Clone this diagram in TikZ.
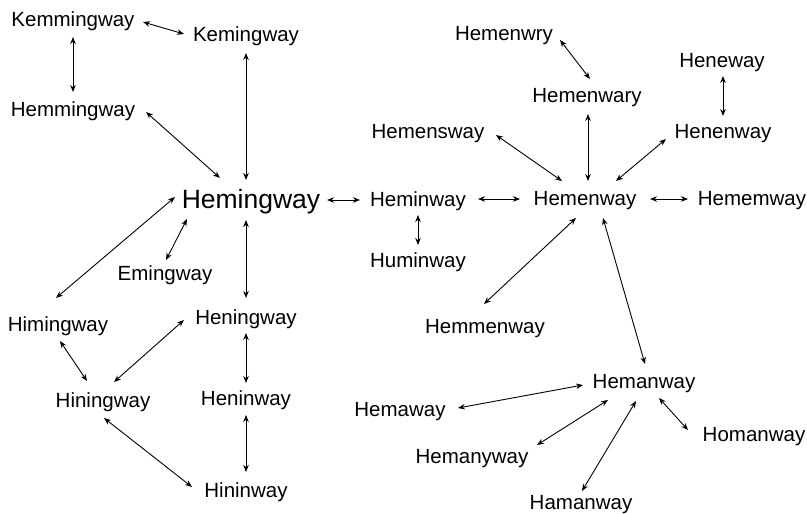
\documentclass[tikz,border=0pt]{standalone}
\usepackage{fontspec}
\setmainfont{Liberation Sans}
\usetikzlibrary{calc,arrows.meta}
\tikzset{
  w/.style={inner sep=0pt, yshift=-2pt, font=\fontsize{20.5}{24}\selectfont},
  big/.style={inner sep=0pt, yshift=-2pt, font=\fontsize{26.5}{31}\selectfont},
  link/.style={line width=0.9pt, {Stealth[length=7pt,width=5.5pt]}-{Stealth[length=7pt,width=5.5pt]}}
}
\newcommand\lnk[4]{\draw[link] ($(#1)+(#2)+(0,-2)$) -- ($(#3)+(#4)+(0,-2)$);}
\begin{document}
\begin{tikzpicture}[x=1pt,y=-1pt]
\useasboundingbox (0,0) rectangle (807,514);
\node[w] (kmm) at (73,19) {Kemmingway};
\node[w] (kem) at (246,34) {Kemingway};
\node[w] (hmm) at (73,109) {Hemmingway};
\node[big] (hem) at (251,200) {Hemingway};
\node[w] (emi) at (165,273) {Emingway};
\node[w] (him) at (58,324) {Himingway};
\node[w] (hng) at (246,317) {Heningway};
\node[w] (hig) at (103,400) {Hiningway};
\node[w] (hnw) at (246,398) {Heninway};
\node[w] (hiw) at (246,490) {Hininway};
\node[w] (hmw) at (418,199) {Heminway};
\node[w] (huw) at (418,260) {Huminway};
\node[w] (hen) at (585,199) {Hemenway};
\node[w] (hem2) at (752,199) {Hememway};
\node[w] (hwr) at (504,34) {Hemenwry};
\node[w] (hwa) at (587,96) {Hemenwary};
\node[w] (hew) at (722,61) {Heneway};
\node[w] (hnn) at (723,132) {Henenway};
\node[w] (hsw) at (428,132) {Hemensway};
\node[w] (hmn) at (485,327) {Hemmenway};
\node[w] (han) at (644,382) {Hemanway};
\node[w] (hma) at (400,410) {Hemaway};
\node[w] (hny) at (472,457) {Hemanyway};
\node[w] (ham) at (581,503) {Hamanway};
\node[w] (hom) at (754,435) {Homanway};
\lnk{kmm}{70,3}{kem}{-62,0}
\lnk{kmm}{0,18}{hmm}{0,-17}
\lnk{kem}{0,19}{hem}{-5,-20}
\lnk{hmm}{73,3}{hem}{-31,-22}
\lnk{hem}{-64,19}{emi}{1,-13}
\lnk{hem}{-76,-3}{him}{-2,-26}
\lnk{hem}{-5,20}{hng}{0,-19}
\lnk{hem}{76,0}{hmw}{-58,1}
\lnk{hng}{0,16}{hnw}{0,-15}
\lnk{hng}{-62,3}{hig}{11,-18}
\lnk{him}{2,17}{hig}{-16,-19}
\lnk{hig}{1,18}{hiw}{-54,-3}
\lnk{hnw}{0,17}{hiw}{0,-18}
\lnk{hmw}{60,0}{hen}{-65,0}
\lnk{hmw}{0,16}{huw}{0,-15}
\lnk{hen}{65,0}{hem2}{-64,0}
\lnk{hen}{3,-18}{hwa}{1,18}
\lnk{hen}{-23,-18}{hsw}{68,3}
\lnk{hen}{31,-18}{hnn}{-57,7}
\lnk{hwa}{3,-17}{hwr}{56,6}
\lnk{hnn}{0,-16}{hew}{1,15}
\lnk{hen}{-9,19}{hmn}{-1,-23}
\lnk{hen}{18,19}{han}{1,-18}
\lnk{han}{-61,3}{hma}{58,-2}
\lnk{han}{-36,18}{hny}{65,-12}
\lnk{han}{-8,19}{ham}{1,-12}
\lnk{han}{15,16}{hom}{-66,-5}
\end{tikzpicture}
\end{document}
